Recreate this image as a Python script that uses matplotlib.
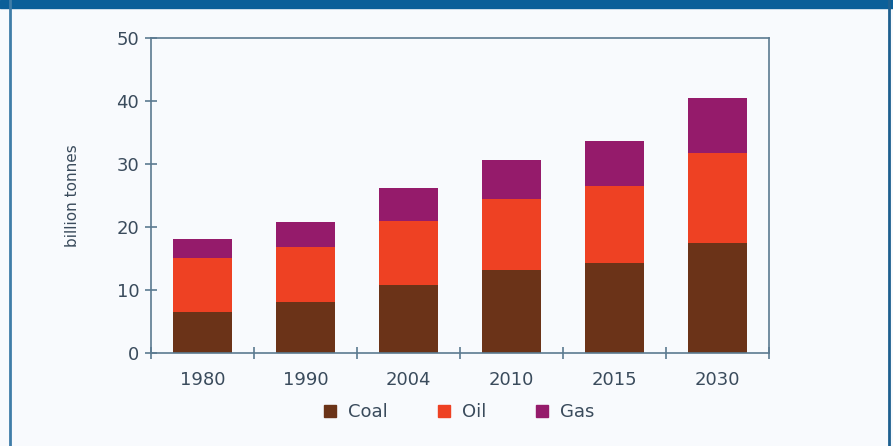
import matplotlib
matplotlib.use("Agg")
import matplotlib.pyplot as plt
from matplotlib.lines import Line2D
from matplotlib.patches import Rectangle
import numpy as np

years = ["1980", "1990", "2004", "2010", "2015", "2030"]
coal = [6.4, 8.1, 10.7, 13.1, 14.2, 17.4]
oil = [8.7, 8.6, 10.2, 11.3, 12.2, 14.3]
gas = [3.0, 4.0, 5.2, 6.2, 7.2, 8.7]
series_names = ["Coal", "Oil", "Gas"]
colors = ["#6B3318", "#EE4123", "#951B6B"]

axis_col = "#5B7A90"
text_col = "#3A4B5C"
bg = "#F8FAFD"

fig = plt.figure(figsize=(8.93, 4.46), dpi=100, facecolor=bg)
# frame decorations
fig.patches.append(Rectangle((0, 1 - 7.5/446), 1, 7.5/446, transform=fig.transFigure,
                             color="#0B5F99", zorder=0))
fig.add_artist(Line2D([10/893, 10/893], [0, 1], transform=fig.transFigure,
                      color="#3F7DA8", lw=2))
fig.add_artist(Line2D([889/893, 889/893], [0, 1], transform=fig.transFigure,
                      color="#1D5F8F", lw=2))

ax = fig.add_axes([151/893, 1 - 352.5/446, 618/893, 314.5/446])
ax.set_facecolor(bg)
x = np.arange(len(years))
bottom = np.zeros(len(years))
for vals, c, name in zip([coal, oil, gas], colors, series_names):
    ax.bar(x, vals, width=0.57, bottom=bottom, color=c, label=name, zorder=2)
    bottom += np.array(vals)

ax.set_xlim(-0.5, len(years) - 0.5)
ax.set_ylim(0, 50)
ax.set_yticks([0, 10, 20, 30, 40, 50])
ax.set_xticks(x)
ax.set_xticklabels(years)
ax.set_xticks(np.arange(-0.5, len(years)), minor=True)
ax.tick_params(axis="x", which="major", length=0, pad=13, labelsize=13, labelcolor=text_col)
ax.tick_params(axis="x", which="minor", direction="inout", length=8, color=axis_col, width=1.2)
ax.tick_params(axis="y", direction="inout", length=9, color=axis_col, width=1.2,
               labelsize=13, labelcolor=text_col, pad=4)
for s in ax.spines.values():
    s.set_color(axis_col)
    s.set_linewidth(1.2)
ax.set_ylabel("billion tonnes", fontsize=11, color=text_col, labelpad=26)

handles = [Line2D([], [], marker="s", linestyle="none", markersize=9,
                  markerfacecolor=c, markeredgecolor=c) for c in colors]
fig.legend(handles, series_names, loc="center", bbox_to_anchor=(458/893, 1 - 412/446),
           ncol=3, frameon=False, fontsize=13, labelcolor=text_col,
           handlelength=1.0, handletextpad=0.5, columnspacing=2.6)

fig.savefig("out.png", dpi=100, facecolor=bg)
